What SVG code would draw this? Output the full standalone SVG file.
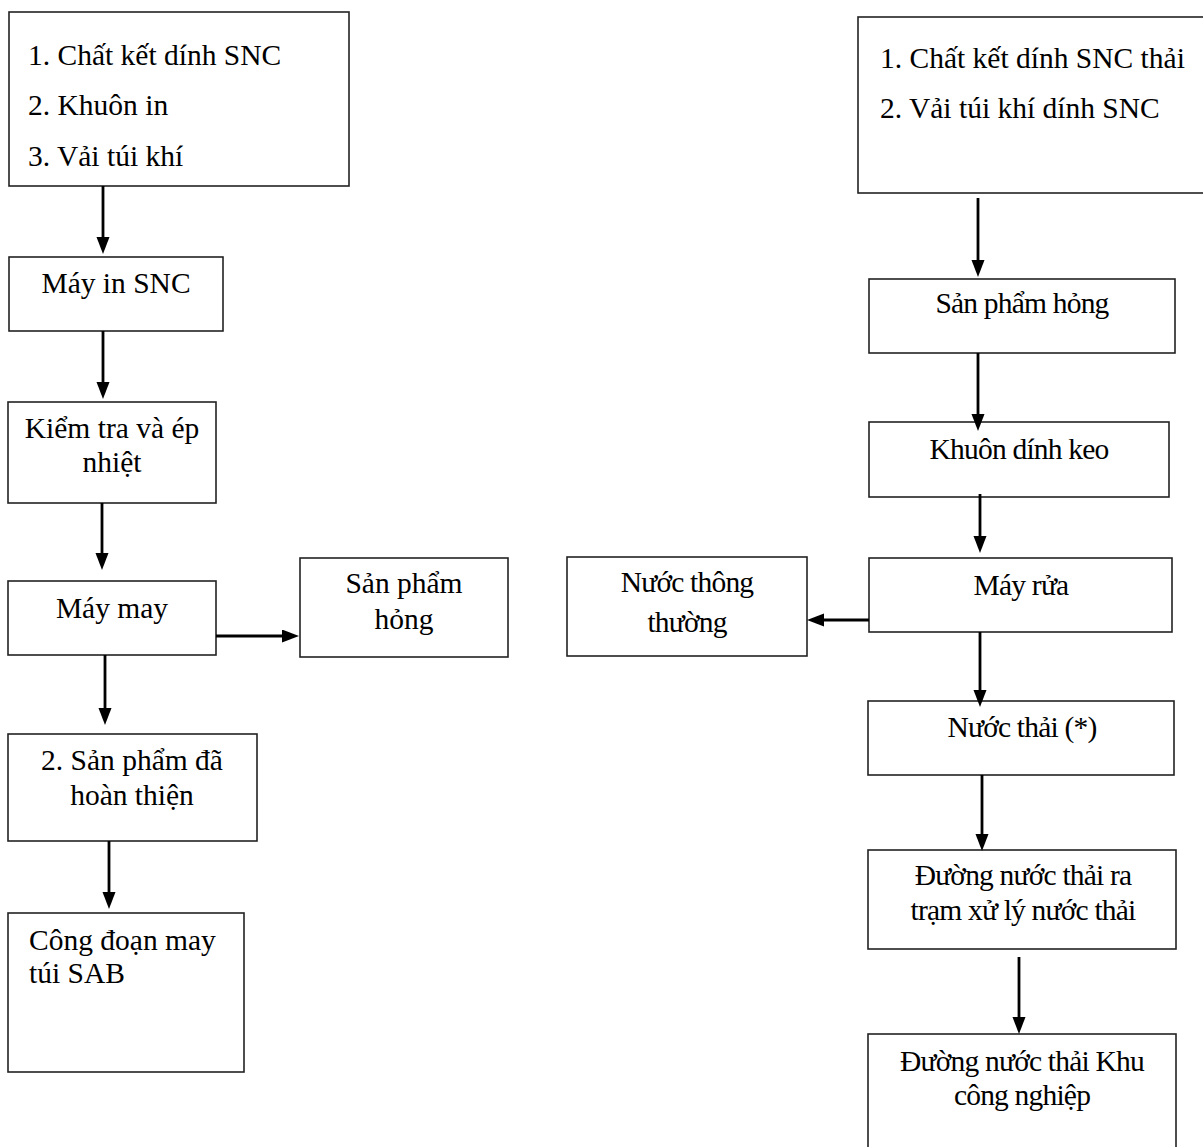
<svg xmlns="http://www.w3.org/2000/svg" width="1203" height="1147" viewBox="0 0 1203 1147">
  <style>
    .box { fill: #ffffff; stroke: #222222; stroke-width: 1.6; }
    .t { font-family: "Liberation Serif", "Times New Roman", serif; font-size: 29.5px; fill: #000000; }
    .c { text-anchor: middle; }
    .n { letter-spacing: -0.8px; }
    .edge { stroke: #000000; stroke-width: 2.8; fill: none; marker-end: url(#arrow); }
  </style>
  <defs>
    <marker id="arrow" markerUnits="userSpaceOnUse" markerWidth="18" markerHeight="14" refX="12" refY="6.5" orient="auto">
      <path d="M0,0 L17,6.5 L0,13 z" fill="#000000"/>
    </marker>
  </defs>
  <rect width="1203" height="1147" fill="#ffffff"/>

  <!-- left column -->
  <g id="inputs-left">
    <rect class="box" x="9" y="12" width="340" height="174"/>
    <text class="t" x="28" y="65">1. Chất kết dính SNC</text>
    <text class="t" x="28" y="115">2. Khuôn in</text>
    <text class="t" x="28" y="166">3. Vải túi khí</text>
  </g>
  <g id="may-in-snc">
    <rect class="box" x="9" y="257" width="214" height="74"/>
    <text class="t c" x="116" y="293">Máy in SNC</text>
  </g>
  <g id="kiem-tra">
    <rect class="box" x="8" y="402" width="208" height="101"/>
    <text class="t c" x="112" y="438">Kiểm tra và ép</text>
    <text class="t c" x="112" y="472">nhiệt</text>
  </g>
  <g id="may-may">
    <rect class="box" x="8" y="581" width="208" height="74"/>
    <text class="t c" x="112" y="618">Máy may</text>
  </g>
  <g id="san-pham-hong-left">
    <rect class="box" x="300" y="558" width="208" height="99"/>
    <text class="t c" x="404" y="593">Sản phẩm</text>
    <text class="t c" x="404" y="629">hỏng</text>
  </g>
  <g id="san-pham-hoan-thien">
    <rect class="box" x="8" y="734" width="249" height="107"/>
    <text class="t c" x="132" y="770">2. Sản phẩm đã</text>
    <text class="t c" x="132" y="805">hoàn thiện</text>
  </g>
  <g id="cong-doan-sab">
    <rect class="box" x="8" y="913" width="236" height="159"/>
    <text class="t" x="29" y="950">Công đoạn may</text>
    <text class="t" x="29" y="983">túi SAB</text>
  </g>

  <!-- right column -->
  <g id="inputs-right">
    <rect class="box" x="858" y="17" width="360" height="176"/>
    <text class="t" x="880" y="68">1. Chất kết dính SNC thải</text>
    <text class="t" x="880" y="118">2. Vải túi khí dính SNC</text>
  </g>
  <g id="san-pham-hong-right">
    <rect class="box" x="869" y="279" width="306" height="74"/>
    <text class="t c n" x="1022" y="313">Sản phẩm hỏng</text>
  </g>
  <g id="khuon-dinh-keo">
    <rect class="box" x="869" y="422" width="300" height="75"/>
    <text class="t c n" x="1019" y="459">Khuôn dính keo</text>
  </g>
  <g id="may-rua">
    <rect class="box" x="869" y="558" width="303" height="74"/>
    <text class="t c n" x="1021" y="595">Máy rửa</text>
  </g>
  <g id="nuoc-thong-thuong">
    <rect class="box" x="567" y="557" width="240" height="99"/>
    <text class="t c n" x="687" y="592">Nước thông</text>
    <text class="t c n" x="687" y="632">thường</text>
  </g>
  <g id="nuoc-thai">
    <rect class="box" x="868" y="701" width="306" height="74"/>
    <text class="t c n" x="1022" y="737">Nước thải (*)</text>
  </g>
  <g id="duong-nuoc-thai-tram">
    <rect class="box" x="868" y="850" width="308" height="99"/>
    <text class="t c n" x="1023" y="885">Đường nước thải ra</text>
    <text class="t c n" x="1023" y="920">trạm xử lý nước thải</text>
  </g>
  <g id="duong-nuoc-thai-kcn">
    <rect class="box" x="868" y="1034" width="308" height="130"/>
    <text class="t c n" x="1022" y="1071">Đường nước thải Khu</text>
    <text class="t c n" x="1022" y="1105">công nghiệp</text>
  </g>

  <!-- connectors: each line stops 5px short of the arrow tip -->
  <g id="connectors">
    <line class="edge" x1="103" y1="186" x2="103" y2="249"/>
    <line class="edge" x1="103" y1="331" x2="103" y2="394"/>
    <line class="edge" x1="102" y1="503" x2="102" y2="565"/>
    <line class="edge" x1="216" y1="636" x2="294" y2="636"/>
    <line class="edge" x1="105" y1="655" x2="105" y2="720"/>
    <line class="edge" x1="109" y1="841" x2="109" y2="904"/>
    <line class="edge" x1="978" y1="198" x2="978" y2="272"/>
    <line class="edge" x1="978" y1="353" x2="978" y2="426"/>
    <line class="edge" x1="980" y1="494" x2="980" y2="548"/>
    <line class="edge" x1="869" y1="620" x2="812" y2="620"/>
    <line class="edge" x1="980" y1="632" x2="980" y2="702"/>
    <line class="edge" x1="982" y1="775" x2="982" y2="846"/>
    <line class="edge" x1="1019" y1="957" x2="1019" y2="1029"/>
  </g>
</svg>
